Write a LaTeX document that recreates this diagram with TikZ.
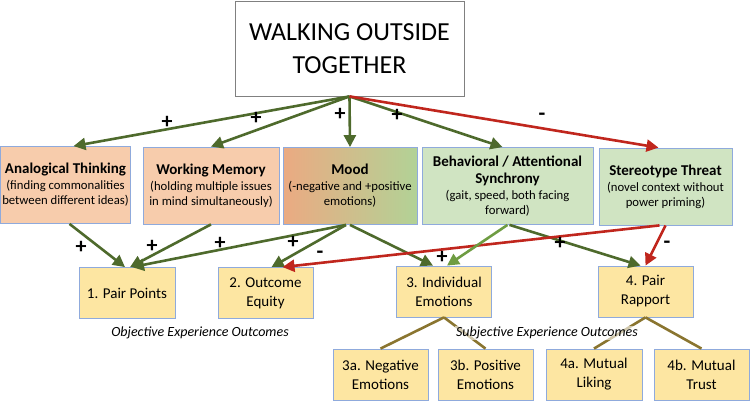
\documentclass[tikz,border=0pt]{standalone}
\usepackage{fontspec}
\setmainfont{Carlito}
\usepackage{tikz}
\usetikzlibrary{calc}
\usetikzlibrary{arrows.meta}
\usetikzlibrary{positioning}
\definecolor{arrgreen}{HTML}{4E6A2C}
\definecolor{arrlight}{HTML}{6E9C42}
\definecolor{arrred}{HTML}{C0261D}
\definecolor{linkbrown}{HTML}{8A7530}
\definecolor{boxblue}{HTML}{8FAADC}
\definecolor{boxorange}{HTML}{F7CCAC}
\definecolor{boxgreen}{HTML}{D0E4C2}
\definecolor{boxyellow}{HTML}{FDE6A2}
\definecolor{moodleft}{HTML}{EBAA82}
\definecolor{moodright}{HTML}{B2D296}
\newcommand{\boxtitle}{\bfseries\fontsize{15}{15}\selectfont}
\newcommand{\boxsub}{\mdseries\fontsize{12.7}{15}\selectfont}
\tikzset{>={Triangle[length=12pt,width=12pt]}}
\tikzstyle{box} = [rectangle, draw=boxblue, line width=0.8pt, inner sep=0pt, align=center]
\tikzstyle{midbox} = [box, minimum height=77pt, font=\fontsize{12.7}{15}\selectfont]
\tikzstyle{outbox} = [box, fill=boxyellow, minimum width=95pt, minimum height=51pt, font=\fontsize{15}{19}\selectfont]
\tikzstyle{plusarr} = [->, line width=2.6pt, draw=arrgreen]
\tikzstyle{minusarr} = [->, line width=2.6pt, draw=arrred]
\tikzstyle{link} = [-, line width=2.6pt, draw=linkbrown]
\tikzstyle{sgn} = [font=\bfseries\fontsize{22}{22}\selectfont, inner sep=0pt]
\tikzstyle{note} = [font=\itshape\fontsize{14}{16}\selectfont, inner sep=1pt]

\begin{document}
\begin{tikzpicture}[x=1pt, y=-1pt]
\useasboundingbox (0,0) rectangle (750,401);
\node [box, draw=gray, minimum width=229pt, minimum height=95pt, font=\fontsize{26}{33}\selectfont] (walk) at (349.5,48.5) {WALKING OUTSIDE\\TOGETHER};

% mediators
\node [midbox, fill=boxorange, minimum width=130pt] (analog) at (65.5,185) {\boxtitle Analogical Thinking\\[1pt]\boxsub (finding commonalities\\between different ideas)};
\node [midbox, fill=boxorange, minimum width=136pt] (memory) at (211,185.5) {\boxtitle Working Memory\\[1pt]\boxsub (holding multiple issues\\in mind simultaneously)};
\node [midbox, left color=moodleft, right color=moodright, minimum width=134pt] (mood) at (350,186) {\boxtitle Mood\\[1pt]\boxsub (-negative and +positive\\emotions)};
\node [midbox, fill=boxgreen, minimum width=171pt] (sync) at (507.5,186) {\boxtitle Behavioral / Attentional\\[2pt]\boxtitle Synchrony\\[1pt]\boxsub (gait, speed, both facing\\forward)};
\node [midbox, fill=boxgreen, minimum width=133pt] (threat) at (665.5,186.5) {\boxtitle Stereotype Threat\\[1pt]\boxsub (novel context without\\power priming)};

% outcomes
\node [outbox, minimum width=96pt] (points) at (127,293) {1. Pair Points};
\node [outbox] (equity) at (265.5,293) {2. Outcome\\Equity};
\node [outbox] (emo) at (444,291.5) {3. Individual\\Emotions};
\node [outbox] (rapport) at (645.5,291.5) {4. Pair\\Rapport};
\node [outbox] (negemo) at (380.5,374.5) {3a. Negative\\Emotions};
\node [outbox] (posemo) at (485.5,374.5) {3b. Positive\\Emotions};
\node [outbox, minimum width=96pt] (liking) at (594,374.5) {4a. Mutual\\Liking};
\node [outbox] (trust) at (701.5,374.5) {4b. Mutual\\Trust};

% walking -> mediators
\draw [plusarr] (walk.south) to ([xshift=8pt]analog.north);
\draw [plusarr] (walk.south) to (memory.north);
\draw [plusarr] (walk.south) to (mood.north);
\draw [plusarr] (walk.south) to ([xshift=-5pt]sync.north);
\draw [minusarr] (walk.south) to ([xshift=-7pt]threat.north);

% mediators -> outcomes
\draw [plusarr] ([xshift=4pt]analog.south) to ([xshift=-2pt]points.north);
\draw [plusarr] (memory.south) to ([xshift=3pt]points.north);
\draw [plusarr] ([xshift=-4pt]mood.south) to ([xshift=5pt]points.north);
\draw [plusarr] ([xshift=-4pt]mood.south) to ([xshift=6pt]equity.north);
\draw [plusarr] (mood.south) to ([xshift=-11pt]emo.north);
\draw [plusarr] ([xshift=2pt]sync.south) to ([xshift=-5pt]rapport.north);
\draw [minusarr] ([xshift=-6pt]threat.south) to ([xshift=17pt]equity.north);
\draw [plusarr, draw=arrlight] (sync.south) to ([xshift=3pt]emo.north);
\draw [minusarr] (threat.south) to (rapport.north);

% sub-outcomes
\draw [link] (emo.south) to (negemo.north);
\draw [link] (emo.south) to (posemo.north);
\draw [link] (rapport.south) to (liking.north);
\draw [link] (rapport.south) to (trust.north);

% signs
\node [sgn] (s1) at (167,122) {+};
\node [sgn] (s2) at (256,118) {+};
\node [sgn] (s3) at (340,114) {+};
\node [sgn] (s4) at (397,115) {+};
\node [sgn] (s5) at (542,117) {-};
\node [sgn] (s6) at (81,247) {+};
\node [sgn] (s7) at (152,246) {+};
\node [sgn] (s8) at (220,243) {+};
\node [sgn] (s9) at (293,242) {+};
\node [sgn] (s10) at (320,255) {-};
\node [sgn] (s11) at (442,257) {+};
\node [sgn] (s12) at (560,243) {+};
\node [sgn] (s13) at (667,245) {-};

\node [note] (objective) at (200,333) {Objective Experience Outcomes};
\node [note, fill=white, fill opacity=0.6, text opacity=1] (subjective) at (547,333) {Subjective Experience Outcomes};
\end{tikzpicture}
\end{document}
